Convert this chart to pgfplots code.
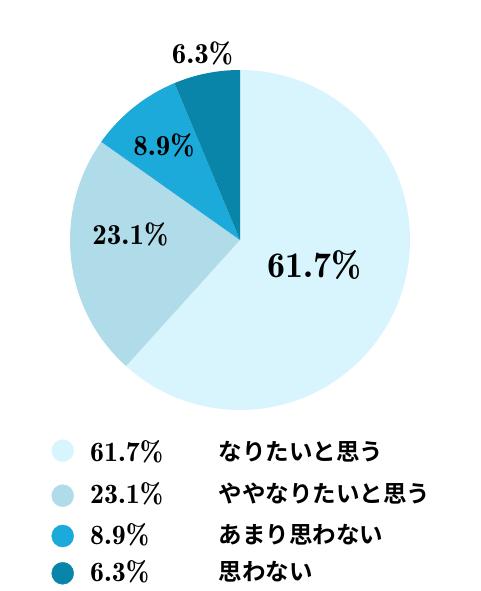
\documentclass[border=0pt]{standalone}
\usepackage{pgfplots}
\usepackage{pgfplotstable}
\usepackage{fontspec}
\pgfplotsset{compat=1.18}
\newfontfamily\jp{Noto Sans CJK JP}[BoldFont={* Bold}]

\definecolor{sliceA}{HTML}{D8F5FD}
\definecolor{sliceB}{HTML}{B0DCEA}
\definecolor{sliceC}{HTML}{1BAADA}
\definecolor{sliceD}{HTML}{0885A9}

% share of answers, clockwise from 12 o'clock
\pgfplotstableread{
value color
61.7 sliceA
23.1 sliceB
8.9 sliceC
6.3 sliceD
}\piedata

\newcommand{\num}[1]{\fontsize{#1}{#1}\fontseries{b}\selectfont}
\newcommand{\lbl}{\jp\bfseries\fontsize{23.5}{23.5}\selectfont}

\begin{document}
\begin{tikzpicture}
\begin{axis}[
  x=1pt, y=1pt,
  xmin=0, xmax=480, ymin=0, ymax=591,
  hide axis, clip=false,
]
\path (axis cs:0,0) rectangle (axis cs:480,591);

% slices
\pgfplotsextra{
  \gdef\startang{90}
  \pgfplotstablegetrowsof{\piedata}
  \pgfmathtruncatemacro\nrows{\pgfplotsretval-1}
  \foreach \i in {0,...,\nrows}{
    \pgfplotstablegetelem{\i}{value}\of\piedata
    \let\v\pgfplotsretval
    \pgfplotstablegetelem{\i}{color}\of\piedata
    \let\c\pgfplotsretval
    \pgfmathsetmacro\endang{\startang-3.6*\v}
    \fill[fill=\c] (axis cs:240,351) -- ++(\startang:170pt)
      arc[start angle=\startang, end angle=\endang, radius=170pt] -- cycle;
    \global\let\startang\endang
  }
}

% slice labels
\node[anchor=base, inner sep=0] at (axis cs:314,313.7) {\num{36}61.7\%};
\node[anchor=base, inner sep=0] at (axis cs:130.3,346) {\num{29}23.1\%};
\node[anchor=base, inner sep=0] at (axis cs:164,435) {\num{29}8.9\%};
\node[anchor=base, inner sep=0] at (axis cs:202.5,527.7) {\num{29}6.3\%};

% legend
\addplot[only marks, mark=*, mark size=11pt, color=sliceA] coordinates {(62.7,140.3)};
\addplot[only marks, mark=*, mark size=11pt, color=sliceB] coordinates {(62.7,95.3)};
\addplot[only marks, mark=*, mark size=11pt, color=sliceC] coordinates {(62.7,55)};
\addplot[only marks, mark=*, mark size=11pt, color=sliceD] coordinates {(62.7,17.7)};

\node[anchor=base west, inner sep=0] at (axis cs:90,129.3) {\num{28}61.7\%};
\node[anchor=base west, inner sep=0] at (axis cs:90,87.7) {\num{28}23.1\%};
\node[anchor=base west, inner sep=0] at (axis cs:90,46) {\num{28}8.9\%};
\node[anchor=base west, inner sep=0] at (axis cs:90,9.3) {\num{28}6.3\%};

\node[anchor=base west, inner sep=0] at (axis cs:218.3,130.5) {\lbl なりたいと思う};
\node[anchor=base west, inner sep=0] at (axis cs:218.3,88.9) {\lbl ややなりたいと思う};
\node[anchor=base west, inner sep=0] at (axis cs:218.3,47.2) {\lbl あまり思わない};
\node[anchor=base west, inner sep=0] at (axis cs:218.3,10.5) {\lbl 思わない};
\end{axis}
\end{tikzpicture}
\end{document}
